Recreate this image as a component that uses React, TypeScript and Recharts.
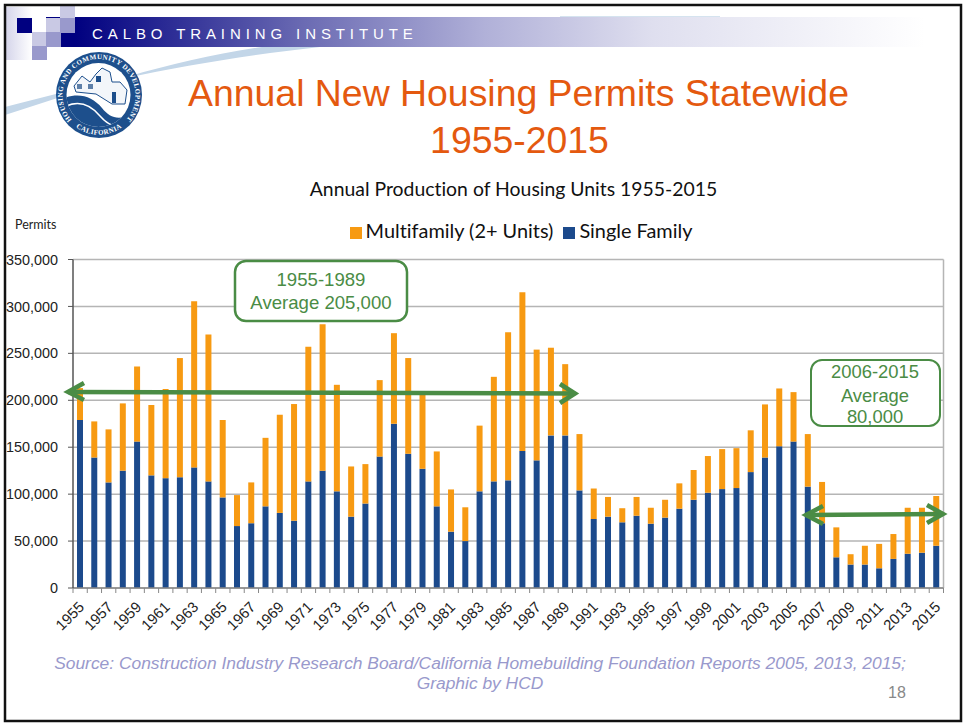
import { BarChart, Bar, XAxis, YAxis, CartesianGrid, Legend } from 'recharts';

const years = [
  1955, 1956, 1957, 1958, 1959, 1960, 1961, 1962, 1963, 1964, 1965, 1966, 1967, 1968, 1969, 1970,
  1971, 1972, 1973, 1974, 1975, 1976, 1977, 1978, 1979, 1980, 1981, 1982, 1983, 1984, 1985, 1986,
  1987, 1988, 1989, 1990, 1991, 1992, 1993, 1994, 1995, 1996, 1997, 1998, 1999, 2000, 2001, 2002,
  2003, 2004, 2005, 2006, 2007, 2008, 2009, 2010, 2011, 2012, 2013, 2014, 2015,
];

const singleFamily = [
  179000, 139000, 112500, 125000, 156000, 120000, 117000, 118000, 128500, 113600, 96500, 66000,
  69000, 87000, 80000, 71700, 113600, 125000, 103000, 76000, 90000, 140000, 175000, 143000, 127000,
  87000, 60000, 50000, 103000, 113600, 114700, 146000, 136000, 162600, 162600, 104000, 73500, 76000,
  70000, 77000, 68500, 75000, 84500, 94000, 101500, 105400, 106500, 123500, 139000, 151000, 156000,
  108000, 69000, 32700, 25000, 25000, 21000, 31000, 36500, 37600, 45000,
];

const multifamily = [
  34000, 38500, 56500, 71700, 80000, 75000, 95000, 127000, 177100, 156400, 82500, 33000, 43500,
  73000, 104600, 124300, 143400, 156000, 113500, 53500, 42000, 81500, 96500, 102000, 80500, 58500,
  45000, 36000, 70000, 111400, 157900, 169000, 118000, 93400, 75900, 60000, 32500, 21000, 15000,
  20000, 17000, 19000, 27000, 31700, 39100, 42600, 42500, 44500, 56600, 61600, 52700, 56000, 44000,
  31900, 11000, 20000, 26000, 26500, 49000, 47900, 53000,
];

const yTicks = [0, 50000, 100000, 150000, 200000, 250000, 300000, 350000];

const chartData = years.map((year, i) => ({
  year: String(year),
  'Single Family': singleFamily[i],
  'Multifamily (2+ Units)': multifamily[i],
}));

const ARIAL = '"Liberation Sans", Arial, sans-serif';
const CALIBRI = 'Lato, sans-serif';
const GREEN = '#4a8c45';
const BAND = 870.5 / 61;

function YearTick({ x, y, payload, index }: any) {
  return (
    <g>
      <line x1={x - BAND / 2} x2={x - BAND / 2} y1={y - 8} y2={y - 3} stroke="#888" />
      {index === years.length - 1 && (
        <line x1={x + BAND / 2} x2={x + BAND / 2} y1={y - 8} y2={y - 3} stroke="#888" />
      )}
      {index % 2 === 0 && (
        <text
          x={x + 5}
          y={y + 12}
          textAnchor="end"
          transform={`rotate(-45 ${x + 5} ${y + 12})`}
          fontFamily={ARIAL}
          fontSize={14.8}
          fill="#222"
        >
          {payload.value}
        </text>
      )}
    </g>
  );
}

function Logo() {
  return (
    <g>
      <defs>
        <clipPath id="logoInner">
          <circle cx={98.5} cy={95} r={32} />
        </clipPath>
      </defs>
      <circle cx={99} cy={95} r={43} fill="#1d4f8c" />
      <circle cx={98.5} cy={95} r={32} fill="#fff" />
      <g clipPath="url(#logoInner)">
        <path d="M62 99 C78 92 92 96 102 108 C110 118 120 122 134 112 L134 132 L62 132 Z" fill="#1d4f8c" />
        <path d="M64 107 C78 100 90 104 100 116 C106 123 112 126 118 127" fill="none" stroke="#fff" strokeWidth={1.5} />
        <path d="M74 86 L82 76 L90 82 L96 74 L102 68 L110 72 L112 82 L120 82 L127 90 L125 104 L112 104 L96 94 L76 92 Z" fill="#f3f6fa" stroke="#1d4f8c" strokeWidth={1} />
        <rect x={77} y={84} width={5} height={5} fill="#5d7fa8" />
        <rect x={88} y={84} width={5} height={5} fill="#5d7fa8" />
        <rect x={96} y={76} width={5} height={6} fill="#1d4f8c" />
        <rect x={112} y={92} width={4} height={11} fill="#1d4f8c" />
      </g>
      <path id="logoArc" d="M71 119 A36.5 36.5 0 1 1 127 119" fill="none" />
      <text fontFamily="'Liberation Serif', serif" fontSize={7} fontWeight={700} fill="#fff" letterSpacing={0.4}>
        <textPath href="#logoArc" startOffset="50%" textAnchor="middle">
          HOUSING AND COMMUNITY DEVELOPMENT
        </textPath>
      </text>
      <path id="logoArcLow" d="M67 118 A39 39 0 0 0 131 118" fill="none" />
      <text fontFamily="'Liberation Serif', serif" fontSize={7} fontWeight={700} fill="#fff" letterSpacing={0.4}>
        <textPath href="#logoArcLow" startOffset="50%" textAnchor="middle">
          CALIFORNIA
        </textPath>
      </text>
    </g>
  );
}

function SlideBackground() {
  return (
    <svg width={965} height={724} style={{ position: 'absolute', left: 0, top: 0 }}>
      <defs>
        <linearGradient id="band" x1="0" x2="1" y1="0" y2="0">
          <stop offset="0" stopColor="#000080" />
          <stop offset="0.27" stopColor="#6b6bb3" />
          <stop offset="0.48" stopColor="#b0b0d8" />
          <stop offset="0.68" stopColor="#dfdfef" />
          <stop offset="1" stopColor="#ffffff" />
        </linearGradient>
        <linearGradient id="fade" x1="0" x2="1" y1="0" y2="0">
          <stop offset="0" stopColor="#d4d4ea" />
          <stop offset="1" stopColor="#ffffff" />
        </linearGradient>
      </defs>
      <rect x={5} y={7} width={27} height={53} fill="url(#fade)" />
      <path d="M5 107 C100 82 200 60 320 47 L262 47 C170 60 90 88 5 115 Z" fill="#c3d6e8" />
      <path d="M560 16.5 L720 16.5" stroke="#d5e3ef" strokeWidth={1} />
      <rect x={75} y={17} width={850} height={30} fill="url(#band)" />
      <rect x={61} y={33} width={14} height={14} fill="#000080" />
      <rect x={46} y={17} width={15} height={1} fill="#000080" />
      <rect x={17} y={18} width={15} height={15} fill="#000080" />
      <rect x={46} y={18} width={15} height={15} fill="#c9c9e4" />
      <rect x={60} y={5} width={15} height={13} fill="#c9c9e4" />
      <rect x={60} y={18} width={15} height={15} fill="#9999cc" />
      <rect x={32} y={32} width={14} height={14} fill="#c9c9e4" />
      <rect x={46} y={32} width={15} height={15} fill="#9999cc" />
      <rect x={32} y={46} width={15} height={14} fill="#9999cc" />
      <text x={92} y={39} fontFamily={ARIAL} fontSize={15} fill="#fff" letterSpacing={4.9}>
        CALBO TRAINING INSTITUTE
      </text>
      <Logo />
      <text x={518.5} y={106} textAnchor="middle" fontFamily={ARIAL} fontSize={37.4} fill="#e4590f">
        Annual New Housing Permits Statewide
      </text>
      <text x={519.5} y={152.5} textAnchor="middle" fontFamily={ARIAL} fontSize={37.4} fill="#e4590f">
        1955-2015
      </text>
      <text x={513.5} y={196} textAnchor="middle" fontFamily={CALIBRI} fontSize={19.4} fill="#111" style={{ fontVariantLigatures: 'none' }}>
        Annual Production of Housing Units 1955-2015
      </text>
      <text x={15} y={229} fontFamily={CALIBRI} fontSize={12.5} fill="#222">
        Permits
      </text>
      <text x={480} y={669} textAnchor="middle" fontFamily={ARIAL} fontStyle="italic" fontSize={17.4} fill="#9999cc">
        Source: Construction Industry Research Board/California Homebuilding Foundation Reports 2005, 2013, 2015;
      </text>
      <text x={480} y={689} textAnchor="middle" fontFamily={ARIAL} fontStyle="italic" fontSize={17.4} fill="#9999cc">
        Graphic by HCD
      </text>
      <text x={888} y={698} fontFamily={ARIAL} fontSize={16} fill="#888">
        18
      </text>
    </svg>
  );
}

function Annotations() {
  return (
    <svg width={965} height={724} style={{ position: 'absolute', left: 0, top: 0, pointerEvents: 'none' }}>
      <rect x={235} y={261} width={172} height={60} rx={11} fill="#fff" stroke={GREEN} strokeWidth={2.5} />
      <text x={321} y={286} textAnchor="middle" fontFamily={ARIAL} fontSize={18.6} fill={GREEN}>
        1955-1989
      </text>
      <text x={321} y={309} textAnchor="middle" fontFamily={ARIAL} fontSize={18.6} fill={GREEN}>
        Average 205,000
      </text>
      <rect x={811} y={360} width={129} height={66} rx={11} fill="#fff" stroke={GREEN} strokeWidth={2} />
      <text x={875} y={378} textAnchor="middle" fontFamily={ARIAL} fontSize={18.4} fill={GREEN}>
        2006-2015
      </text>
      <text x={875} y={402} textAnchor="middle" fontFamily={ARIAL} fontSize={18.4} fill={GREEN}>
        Average
      </text>
      <text x={875} y={423} textAnchor="middle" fontFamily={ARIAL} fontSize={18.4} fill={GREEN}>
        80,000
      </text>
      <g stroke={GREEN} strokeWidth={4.5} fill="none">
        <path d="M68 392 L575 393.5" />
        <path d="M84 383 L68 392 L84 400" />
        <path d="M560 384 L575 393.5 L560 403" />
        <path d="M806 515 L943 514" />
        <path d="M823 506 L806 515 L823 524" />
        <path d="M927 505 L943 514 L927 523" />
      </g>
      <rect x={5} y={5} width={956} height={716} fill="none" stroke="#111" strokeWidth={2.5} />
    </svg>
  );
}

export default function App() {
  return (
    <div style={{ position: 'absolute', left: 0, top: 0, width: 965, height: 724, background: '#fff', overflow: 'hidden' }}>
      <SlideBackground />
      <div style={{ position: 'absolute', left: 0, top: 0 }}>
        <BarChart
          width={965}
          height={724}
          data={chartData}
          barSize={6}
          margin={{ top: 259.5, right: 21.5, bottom: 76, left: 8 }}
          style={{ fontFamily: ARIAL }}
        >
          <CartesianGrid vertical horizontal stroke="#b5b5b5" strokeWidth={1.5} verticalPoints={[943.5]} />
          <XAxis
            dataKey="year"
            interval={0}
            height={60}
            axisLine={{ stroke: '#888', strokeWidth: 1.5 }}
            tickLine={false}
            tick={<YearTick />}
          />
          <YAxis
            width={65}
            domain={[0, 350000]}
            ticks={yTicks}
            interval={0}
            tickFormatter={(v: number) => v.toLocaleString('en-US')}
            tick={{ fontSize: 14.4, fill: '#222', fontFamily: ARIAL }}
            axisLine={{ stroke: '#555', strokeWidth: 1.5 }}
            tickLine={{ stroke: '#555' }}
            tickSize={5}
            tickMargin={10}
          />
          <Legend
            layout="horizontal"
            verticalAlign="middle"
            align="center"
            iconType="square"
            iconSize={12}
            wrapperStyle={{ position: 'absolute', left: 326, top: 218, width: 400, fontFamily: CALIBRI, fontSize: 19.9, color: '#111', fontVariantLigatures: 'none' }}
            formatter={(value: string) => <span style={{ color: '#111' }}>{value}</span>}
          />
          <Bar dataKey="Single Family" stackId="permits" fill="#1c4a8c" isAnimationActive={false} />
          <Bar dataKey="Multifamily (2+ Units)" stackId="permits" fill="#f79a12" isAnimationActive={false} />
        </BarChart>
      </div>
      <Annotations />
    </div>
  );
}
